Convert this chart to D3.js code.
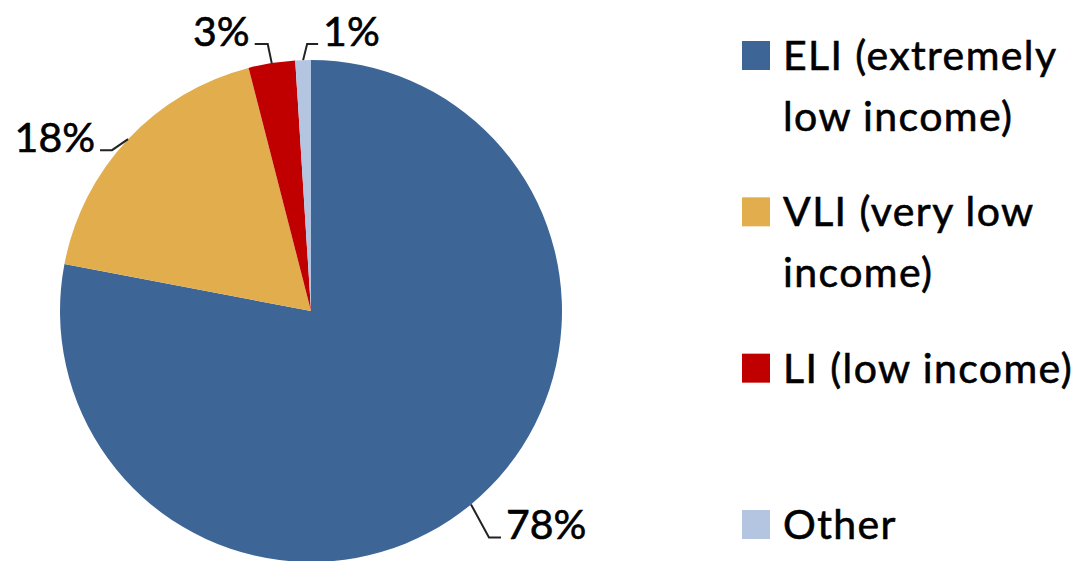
<!DOCTYPE html>
<html>
<head>
<meta charset="utf-8">
<script src="https://cdn.jsdelivr.net/npm/d3@7/dist/d3.min.js"></script>
<style>
  html, body { margin: 0; padding: 0; background: #fff; }
  svg { display: block; }
  text { font-family: Lato, "Open Sans", sans-serif; fill: #000; stroke: #000; stroke-width: 0.6px; }
</style>
</head>
<body>
<div id="chart"></div>
<script>
// ---- data ----
const categories = ["ELI", "VLI", "LI", "Other"];
const legendLines = [["ELI (extremely", "low income)"], ["VLI (very low", "income)"], ["LI (low income)"], ["Other"]];
const values = [78, 18, 3, 1];
const valueLabels = ["78%", "18%", "3%", "1%"];
const colors = ["#3D6697", "#E2AE4D", "#C00000", "#B4C5E1"];

// ---- layout ----
const W = 1080, H = 561;
const cx = 311, cy = 311, R = 251;
// leader line geometry relative to the slice's mid-point on the rim: [elbow dx, elbow dy, end dx, end dy, text side]
const leaders = [
  [18, 33, 30, 33, "start"],
  [-16, 11, -28, 11, "end"],
  [-4, -19, -17, -19, "end"],
  [4, -16, 15, -16, "start"]
];

const svg = d3.select("#chart").append("svg").attr("width", W).attr("height", H);

const pie = d3.pie().sort(null).value(d => d)(values);
const arc = d3.arc().innerRadius(0).outerRadius(R);

const g = svg.append("g").attr("transform", `translate(${cx},${cy})`);
g.selectAll("path.slice").data(pie).join("path")
  .attr("class", "slice")
  .attr("d", arc)
  .attr("fill", (d, i) => colors[i]);

// labels with leader lines
const labelG = g.append("g");
pie.forEach((d, i) => {
  const mid = (d.startAngle + d.endAngle) / 2;
  const ax = R * Math.sin(mid), ay = -R * Math.cos(mid);
  const L = leaders[i];
  const ex = ax + L[0], ey = ay + L[1];
  const fx = ax + L[2], fy = ay + L[3];
  labelG.append("path")
    .attr("d", d3.line()([[ax, ay], [ex, ey], [fx, fy]]))
    .attr("fill", "none").attr("stroke", "#222").attr("stroke-width", 2);
  labelG.append("text")
    .attr("x", fx + (L[4] === "start" ? 5 : -5))
    .attr("y", fy + 2)
    .attr("text-anchor", L[4])
    .attr("font-size", 41)
    .text(valueLabels[i]);
});

// legend
const legY = d3.scalePoint().domain(categories).range([70, 539]);
const leg = svg.append("g");
categories.forEach((c, i) => {
  const y = legY(c);
  leg.append("rect").attr("x", 742).attr("y", y - 29).attr("width", 28).attr("height", 29).attr("fill", colors[i]);
  const t = leg.append("text").attr("x", 783).attr("y", y).attr("font-size", 41).attr("letter-spacing", 1.4);
  legendLines[i].forEach((ln, j) => {
    t.append("tspan").attr("x", 783).attr("dy", j === 0 ? 0 : 61).text(ln);
  });
});
</script>
</body>
</html>
